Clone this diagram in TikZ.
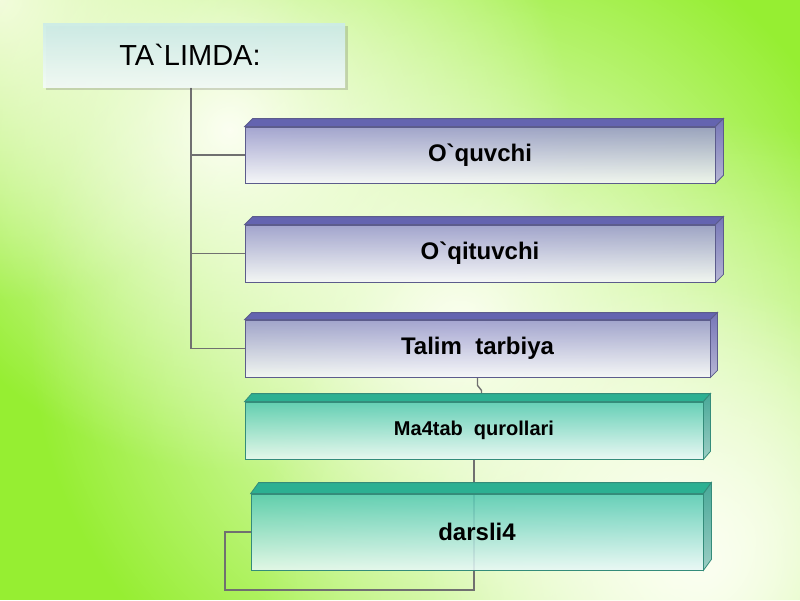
\documentclass[tikz,border=0pt]{standalone}
\usepackage{fontspec}
\newfontfamily\lsans{Liberation Sans}
\usetikzlibrary{shadows,fadings}
\definecolor{bggreen}{RGB}{150,238,50}
\definecolor{bgwhite}{RGB}{252,255,242}
\definecolor{bgpale}{RGB}{240,252,214}
\definecolor{pedge}{RGB}{92,92,140}
\definecolor{ptopc}{RGB}{100,100,176}
\definecolor{pfronta}{RGB}{150,150,204}
\definecolor{pfrontb}{RGB}{246,246,252}
\definecolor{psidea}{RGB}{118,118,184}
\definecolor{psideb}{RGB}{182,182,212}
\definecolor{tedge}{RGB}{52,140,122}
\definecolor{ttopc}{RGB}{44,176,146}
\definecolor{tfronta}{RGB}{84,202,178}
\definecolor{tfrontb}{RGB}{232,248,246}
\definecolor{tsidea}{RGB}{72,168,152}
\definecolor{tsideb}{RGB}{156,206,196}
\definecolor{conncol}{RGB}{112,112,112}
\definecolor{hboxa}{RGB}{204,236,232}
\definecolor{hboxb}{RGB}{244,251,248}
\tikzfading[name=fadespot, inner color=transparent!0, outer color=transparent!100]
\pgfdeclarelayer{back}
\pgfdeclarelayer{links}
\pgfsetlayers{back,links,main}
\newcommand\boxbevel[5]{%
  \path[#4] (#1.north west) -- ++(#2,-#3) -- ([shift={(#2,-#3)}]#1.north east) -- (#1.north east) -- cycle;
  \path[#5] (#1.north east) -- ++(#2,-#3) -- ([shift={(#2,-#3)}]#1.south east) -- (#1.south east) -- cycle;}
\begin{document}
\begin{tikzpicture}[x=1pt,y=-1pt,
  pfront/.style={rectangle, draw=pedge, line width=0.8pt, top color=pfronta, bottom color=pfrontb,
    fill opacity=0.85, text opacity=1, inner sep=0pt, font=\lsans\bfseries\fontsize{24}{28}\selectfont},
  ptop/.style={fill=ptopc, draw=pedge, line width=0.8pt},
  pside/.style={top color=psidea, bottom color=psideb, draw=pedge, line width=0.8pt},
  tfront/.style={rectangle, draw=tedge, line width=0.8pt, top color=tfronta, bottom color=tfrontb,
    fill opacity=0.88, text opacity=1, inner sep=0pt, font=\lsans\bfseries\fontsize{24}{28}\selectfont},
  ttop/.style={fill=ttopc, draw=tedge, line width=0.8pt},
  tside/.style={top color=tsidea, bottom color=tsideb, draw=tedge, line width=0.8pt},
  headbox/.style={rectangle, top color=hboxa, bottom color=hboxb, fill opacity=0.92, text opacity=1,
    inner sep=0pt, font=\lsans\fontsize{29}{32}\selectfont,
    drop shadow={shadow xshift=3pt, shadow yshift=-3pt, opacity=0.22, fill=black!70}},
  spot/.style={fill=bgwhite, path fading=fadespot},
  conn/.style={draw=conncol, line width=1.8pt}]
\useasboundingbox (0,0) rectangle (800,600);
\begin{pgfonlayer}{back}
  \fill[bggreen] (0,0) rectangle (800,600);
  \begin{scope}
    \clip (0,0) rectangle (800,600);
    \fill[spot, fill=bgpale] (0,0) circle (300);
    \fill[spot] (230,130) circle (340);
    \fill[spot] (460,330) circle (430);
    \fill[spot] (700,560) circle (440);
    \fill[spot, fill opacity=0.7] (680,540) circle (260);
  \end{scope}
\end{pgfonlayer}

% header
\node[headbox, minimum width=302, minimum height=64] (t) at (194,55) {\hspace*{-8pt}\raisebox{-5pt}{TA`LIMDA:}};

% purple boxes
\node[pfront, minimum width=470, minimum height=56] (b1) at (480,155) {O`quvchi};
\boxbevel{b1}{8}{8}{ptop}{pside}
\node[pfront, minimum width=470, minimum height=57] (b2) at (480,253.5) {O`qituvchi};
\boxbevel{b2}{8}{8}{ptop}{pside}
\node[pfront, minimum width=465, minimum height=57] (b3) at (477.5,348.5) {Talim\ \ tarbiya};
\boxbevel{b3}{7}{7}{ptop}{pside}

% teal boxes
\node[tfront, minimum width=458, minimum height=57, font=\lsans\bfseries\fontsize{20}{24}\selectfont] (b4) at (474,430.5) {Ma4tab\ \ qurollari};
\boxbevel{b4}{7}{8}{ttop}{tside}
\node[tfront, minimum width=452, minimum height=76] (b5) at (477,532) {darsli4};
\boxbevel{b5}{8}{11}{ttop}{tside}

% connectors
\begin{pgfonlayer}{links}
  \coordinate (vx) at (191,0);
  \coordinate (lp) at (225,590);
  \draw[conn] (t.south -| vx) |- (b1.west);
  \draw[conn] (t.south -| vx) |- (b2.west);
  \draw[conn] (t.south -| vx) |- (b3.west);
  \draw[conn, line width=1.4pt] (b3.south) -- ++(0,8) -- ++(4,5) -- ++(0,4);
  \draw[conn] (b4.south) |- (lp) |- (b5.west);
\end{pgfonlayer}
\end{tikzpicture}
\end{document}
